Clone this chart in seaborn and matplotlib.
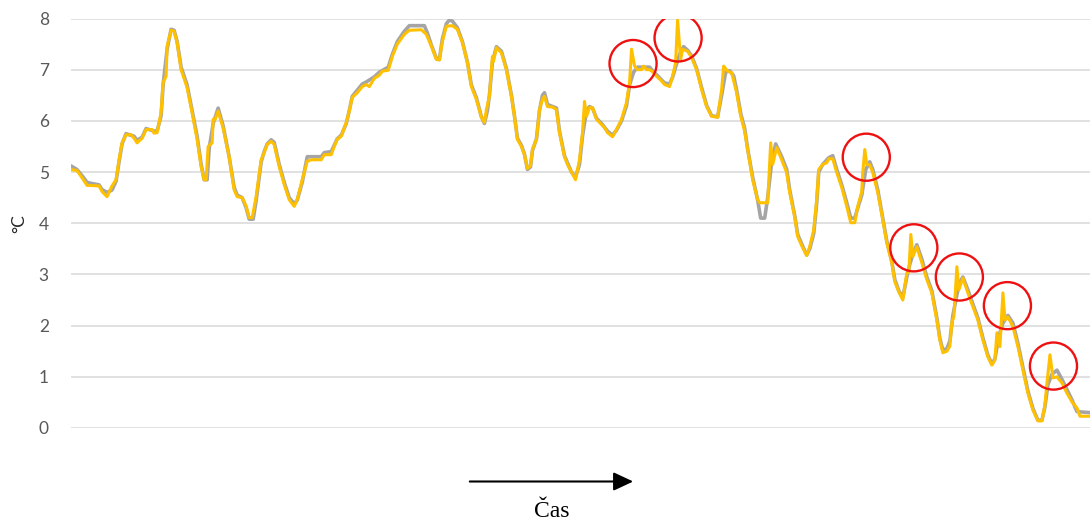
import matplotlib
matplotlib.use('Agg')
import matplotlib.pyplot as plt
import pandas as pd
import seaborn as sns

# Time samples (index) and temperatures
yellow_t = [72, 78, 83, 88, 100, 103, 108, 113, 117, 120, 123, 127, 132, 135, 138, 143, 147, 153, 155, 158,
            162, 164, 167, 168, 172, 175, 178, 182, 188, 193, 198, 202, 205, 207, 209, 213, 214, 216, 219, 224,
            230, 235, 238, 243, 247, 250, 253, 257, 262, 265, 268, 272, 275, 280, 285, 290, 295, 298, 303, 308,
            312, 322, 325, 332, 335, 338, 342, 347, 350, 353, 358, 363, 367, 370, 375, 380, 383, 389, 393, 398,
            405, 410, 422, 427, 432, 437, 440, 443, 447, 453, 458, 463, 468, 472, 477, 482, 485, 487, 490, 493,
            494, 497, 502, 507, 512, 515, 518, 522, 525, 528, 531, 533, 537, 540, 543, 545, 548, 553, 557, 560,
            565, 568, 572, 576, 580, 583, 585, 587, 590, 593, 597, 602, 605, 608, 613, 617, 622, 627, 630, 632,
            635, 638, 642, 644, 647, 650, 653, 657, 661, 665, 670, 673, 676, 678, 681, 683, 688, 692, 697, 702,
            707, 712, 718, 722, 724, 728, 732, 737, 741, 745, 748, 753, 758, 760, 768, 771, 773, 777, 782, 787,
            790, 795, 798, 803, 807, 810, 814, 817, 819, 823, 827, 829, 833, 837, 842, 847, 851, 855, 858, 862,
            863, 865, 867, 870, 873, 878, 883, 887, 892, 895, 899, 903, 907, 909, 911, 913, 917, 922, 927, 932,
            937, 940, 943, 947, 950, 952, 954, 957, 959, 963, 968, 973, 978, 983, 988, 992, 995, 997, 1000, 1003,
            1005, 1008, 1013, 1018, 1023, 1028, 1033, 1038, 1042, 1045, 1047, 1050, 1053, 1057, 1062, 1067, 1072,
            1077, 1080, 1090]
yellow_v = [5.05, 5.03, 4.89, 4.74, 4.73, 4.62, 4.52, 4.73, 4.85, 5.24, 5.57, 5.73, 5.73, 5.66, 5.57, 5.66, 5.83, 5.83, 5.76, 5.77,
            6.16, 6.75, 6.87, 7.46, 7.77, 7.75, 7.53, 7.0, 6.65, 6.16, 5.64, 5.11, 4.85, 4.85, 5.5, 5.57, 6.03, 6.03, 6.19, 5.86,
            5.3, 4.65, 4.52, 4.5, 4.33, 4.11, 4.11, 4.52, 5.24, 5.38, 5.54, 5.6, 5.54, 5.11, 4.76, 4.46, 4.33, 4.46, 4.85, 5.21,
            5.24, 5.24, 5.34, 5.34, 5.5, 5.64, 5.7, 5.97, 6.19, 6.46, 6.55, 6.67, 6.71, 6.67, 6.83, 6.89, 6.97, 6.99, 7.26, 7.5,
            7.69, 7.77, 7.78, 7.69, 7.46, 7.2, 7.19, 7.55, 7.85, 7.86, 7.79, 7.53, 7.14, 6.67, 6.42, 6.07, 5.97, 6.22, 6.48, 7.26,
            7.16, 7.43, 7.33, 7.0, 6.48, 6.09, 5.64, 5.5, 5.34, 5.07, 5.12, 5.44, 5.64, 6.22, 6.42, 6.48, 6.28, 6.27, 6.22, 5.77,
            5.3, 5.15, 5.0, 4.85, 5.24, 5.77, 6.38, 6.09, 6.26, 6.26, 6.03, 5.93, 5.87, 5.77, 5.69, 5.83, 6.03, 6.36, 6.75, 7.4,
            7.07, 7.0, 7.0, 7.07, 7.0, 7.0, 6.96, 6.87, 6.8, 6.71, 6.67, 6.87, 7.14, 7.97, 7.2, 7.4, 7.36, 7.24, 7.0, 6.61,
            6.28, 6.09, 6.07, 6.61, 7.07, 6.97, 6.94, 6.55, 6.1, 5.8, 5.44, 4.85, 4.46, 4.4, 4.4, 5.57, 5.15, 5.48, 5.24, 4.99,
            4.6, 4.13, 3.74, 3.52, 3.37, 3.54, 3.87, 4.46, 5.05, 5.15, 5.18, 5.26, 5.26, 4.99, 4.7, 4.33, 4.01, 4.01, 4.33, 4.62,
            4.99, 5.44, 5.15, 5.14, 4.99, 4.6, 4.07, 3.62, 3.23, 2.86, 2.66, 2.5, 3.03, 3.05, 3.78, 3.35, 3.54, 3.23, 2.9, 2.64,
            2.11, 1.72, 1.47, 1.5, 1.6, 2.07, 2.17, 3.15, 2.7, 2.93, 2.64, 2.37, 2.11, 1.72, 1.39, 1.23, 1.33, 1.86, 1.59, 2.64,
            2.11, 2.17, 1.98, 1.59, 1.13, 0.68, 0.35, 0.14, 0.14, 0.45, 0.88, 1.43, 0.98, 1.0, 0.88, 0.68, 0.51,
            0.39, 0.23, 0.23]

gray_t = [72, 78, 83, 88, 92, 100, 103, 108, 113, 117, 120, 123, 127, 135, 138, 143, 147, 155, 158, 162,
          164, 168, 172, 175, 178, 182, 188, 193, 198, 202, 205, 208, 210, 214, 219, 224, 230, 235, 238, 243,
          247, 250, 254, 257, 262, 265, 268, 272, 275, 280, 285, 290, 295, 298, 303, 308, 322, 325, 332, 338,
          342, 347, 350, 353, 358, 363, 367, 375, 380, 389, 393, 398, 405, 410, 425, 428, 432, 437, 440, 443,
          447, 450, 453, 458, 463, 468, 472, 477, 482, 485, 488, 490, 493, 497, 502, 507, 512, 515, 518, 522,
          525, 528, 531, 533, 537, 540, 543, 545, 548, 557, 560, 565, 568, 572, 576, 580, 583, 587, 590, 593,
          597, 602, 608, 613, 617, 622, 627, 630, 634, 638, 650, 653, 657, 661, 665, 670, 673, 676, 680, 684,
          688, 692, 697, 702, 707, 712, 718, 722, 726, 730, 734, 737, 741, 745, 748, 753, 758, 761, 765, 768,
          772, 776, 782, 787, 790, 795, 798, 803, 807, 810, 814, 817, 819, 823, 829, 833, 837, 842, 847, 851,
          855, 858, 862, 866, 870, 873, 878, 883, 887, 892, 895, 899, 903, 907, 910, 914, 917, 922, 927, 932,
          937, 940, 943, 947, 950, 953, 957, 960, 963, 968, 973, 978, 983, 988, 992, 995, 999, 1003, 1008, 1013,
          1018, 1023, 1028, 1033, 1038, 1042, 1045, 1048, 1052, 1057, 1062, 1067, 1072, 1077, 1090]
gray_v = [5.12, 5.05, 4.93, 4.8, 4.78, 4.75, 4.66, 4.6, 4.65, 4.82, 5.2, 5.55, 5.75, 5.7, 5.62, 5.68, 5.85, 5.8, 5.8, 6.1,
          6.7, 7.4, 7.79, 7.77, 7.55, 7.05, 6.7, 6.2, 5.7, 5.15, 4.85, 4.85, 5.45, 5.95, 6.25, 5.9, 5.3, 4.7, 4.55, 4.5,
          4.3, 4.08, 4.08, 4.45, 5.2, 5.4, 5.55, 5.63, 5.58, 5.15, 4.8, 4.5, 4.38, 4.45, 4.8, 5.3, 5.3, 5.38, 5.4, 5.65,
          5.72, 5.95, 6.2, 6.48, 6.6, 6.72, 6.76, 6.86, 6.95, 7.05, 7.3, 7.55, 7.75, 7.86, 7.86, 7.72, 7.48, 7.22, 7.2, 7.6,
          7.9, 7.97, 7.95, 7.82, 7.55, 7.15, 6.7, 6.45, 6.08, 5.95, 6.2, 6.5, 7.15, 7.45, 7.36, 7.02, 6.5, 6.1, 5.66, 5.52,
          5.35, 5.05, 5.1, 5.42, 5.65, 6.2, 6.5, 6.55, 6.32, 6.25, 5.8, 5.32, 5.18, 5.0, 4.9, 5.15, 5.7, 6.2, 6.28, 6.25,
          6.05, 5.95, 5.8, 5.72, 5.82, 6.0, 6.3, 6.7, 6.95, 7.05, 7.05, 6.98, 6.9, 6.82, 6.74, 6.72, 6.85, 7.05, 7.3, 7.45,
          7.38, 7.27, 7.02, 6.65, 6.3, 6.1, 6.08, 6.5, 6.95, 6.98, 6.88, 6.6, 6.15, 5.85, 5.45, 4.9, 4.45, 4.1, 4.1, 4.5,
          5.2, 5.55, 5.3, 5.05, 4.65, 4.15, 3.78, 3.55, 3.38, 3.5, 3.8, 4.4, 5.0, 5.15, 5.28, 5.32, 5.05, 4.75, 4.4, 4.1,
          4.1, 4.3, 4.55, 5.05, 5.2, 5.05, 4.65, 4.1, 3.65, 3.25, 2.9, 2.68, 2.55, 2.95, 3.2, 3.45, 3.58, 3.3, 2.95, 2.68,
          2.15, 1.75, 1.52, 1.55, 1.7, 2.2, 2.6, 2.85, 2.95, 2.7, 2.42, 2.15, 1.76, 1.42, 1.25, 1.35, 1.8, 2.05, 2.2, 2.05,
          1.65, 1.18, 0.72, 0.38, 0.15, 0.15, 0.42, 0.85, 1.05, 1.13, 0.95, 0.75, 0.55, 0.32, 0.3]

# Highlighted spikes (circle centres)
spike_t = [633.5, 678.5, 866.5, 914, 959.5, 1007.5, 1053.5]
spike_v = [7.12, 7.62, 5.29, 3.52, 2.95, 2.39, 1.21]

y_ticks = [0, 1, 2, 3, 4, 5, 6, 7, 8]

sns.set_theme(style='white')
plt.rcParams['font.family'] = ['Lato', 'DejaVu Sans']

fig = plt.figure(figsize=(10.9, 5.21), dpi=100)
ax = fig.add_axes([71 / 1090, 1 - 428 / 521, 1019 / 1090, 409.5 / 521])

gray = pd.DataFrame({'t': gray_t, 'v': gray_v})
yellow = pd.DataFrame({'t': yellow_t, 'v': yellow_v})
sns.lineplot(data=gray, x='t', y='v', ax=ax, color='#A5A5A5', linewidth=2.6,
             estimator=None, sort=False)
sns.lineplot(data=yellow, x='t', y='v', ax=ax, color='#FFC000', linewidth=2.2,
             estimator=None, sort=False)

ax.scatter(spike_t, spike_v, s=1150, facecolors='none', edgecolors='#EE1111',
           linewidths=1.7, zorder=5)

ax.set_xlim(72, 1090)
ax.set_ylim(0, 8)
ax.set_yticks(y_ticks)
ax.set_xticks([])
ax.grid(axis='y', color='#D9D9D9', linewidth=1.1)
ax.set_axisbelow(True)
for s in ax.spines.values():
    s.set_visible(False)
ax.tick_params(axis='y', length=0, pad=16, labelsize=12.5, labelcolor='#595959')
ax.set_xlabel('')
ax.set_ylabel('°C', fontsize=12.5, color='#262626')
ax.yaxis.set_label_coords(-44 / 1019, 0.5)

# Time arrow with label
ax.annotate('', xy=(636 / 1090, 1 - 481.5 / 521), xytext=(467 / 1090, 1 - 481.5 / 521),
            xycoords='figure fraction', textcoords='figure fraction',
            arrowprops=dict(arrowstyle='-|>,head_length=0.6,head_width=0.28',
                            mutation_scale=20, color='black', lw=1.5))
fig.text(552 / 1090, 1 - 517 / 521, 'Čas', ha='center', va='baseline',
         fontsize=17, family=['Liberation Serif', 'DejaVu Serif'], color='black')

fig.savefig('out.png', dpi=100)
